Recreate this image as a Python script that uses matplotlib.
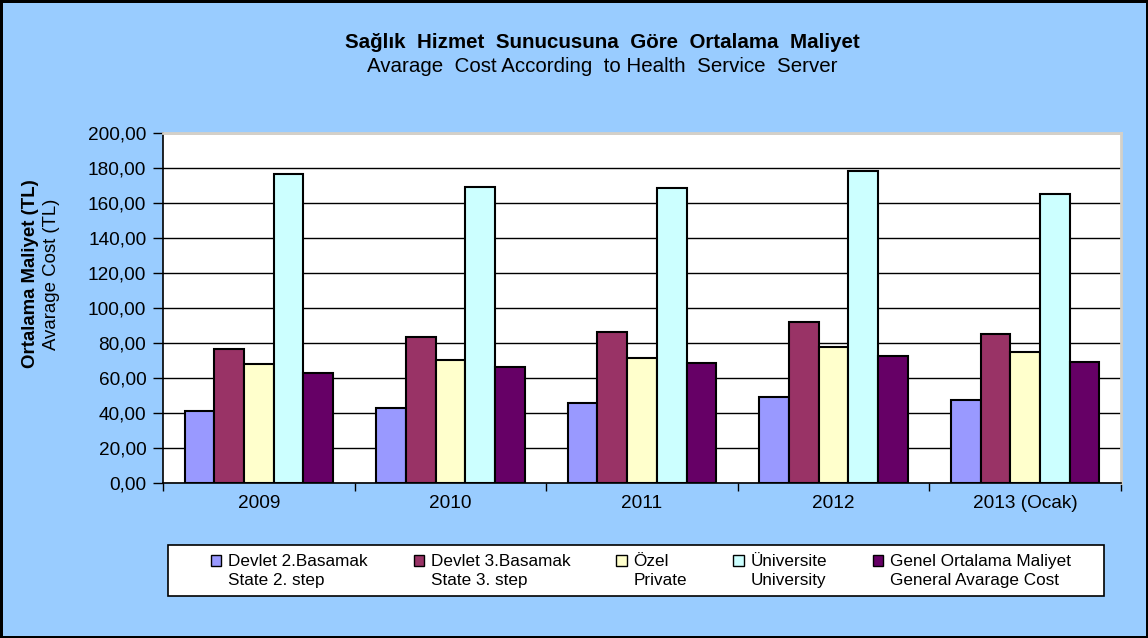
import matplotlib.pyplot as plt
import numpy as np
from matplotlib.patches import Patch, Rectangle

plt.rcParams['font.family'] = ['Liberation Sans', 'DejaVu Sans']

years = ['2009', '2010', '2011', '2012', '2013 (Ocak)']
devlet2 = [41.0, 42.5, 45.4, 49.0, 47.3]
devlet3 = [76.2, 83.3, 86.1, 91.7, 85.0]
ozel = [68.0, 70.3, 71.1, 77.4, 74.5]
universite = [176.8, 169.0, 168.4, 178.5, 165.0]
genel = [62.7, 66.1, 68.4, 72.2, 68.8]

series = [devlet2, devlet3, ozel, universite, genel]
names_tr = ['Devlet 2.Basamak', 'Devlet 3.Basamak', 'Özel', 'Üniversite', 'Genel Ortalama Maliyet']
names_en = ['State 2. step', 'State 3. step', 'Private', 'University', 'General Avarage Cost']
colors = ['#9999FF', '#993366', '#FFFFCC', '#CCFFFF', '#660066']

W, H = 1148, 638
fig = plt.figure(figsize=(W / 100, H / 100), dpi=100)
fig.patch.set_facecolor('#99CCFF')
fig.patch.set_edgecolor('black')
fig.patch.set_linewidth(2.5)

ax = fig.add_axes([163 / W, 1 - 482.5 / H, 958 / W, 349.5 / H])
ax.set_facecolor('white')

x = np.arange(len(years))
bw = 0.155
for i, (vals, c) in enumerate(zip(series, colors)):
    ax.bar(x + (i - 2) * bw, vals, bw, color=c, edgecolor='black', linewidth=1.5, zorder=3)

ax.set_xlim(-0.5, len(years) - 0.5)
ax.set_ylim(0, 200)
ax.set_yticks(np.arange(0, 201, 20))
ax.set_yticklabels([f'{v:.2f}'.replace('.', ',') for v in np.arange(0, 201, 20)], fontsize=13.7)
ax.yaxis.grid(True, color='black', linewidth=1, zorder=0)
ax.set_xticks(x)
ax.set_xticklabels(years, fontsize=13.7)
ax.set_xticks(np.arange(-0.5, len(years), 1), minor=True)
ax.tick_params(axis='x', which='major', length=0, pad=9)
ax.tick_params(axis='x', which='minor', length=6, width=1, direction='out')
ax.tick_params(axis='y', length=7, width=1, direction='out', pad=5)
for s in ['top', 'right']:
    ax.spines[s].set_color('#D4D0C8')
    ax.spines[s].set_linewidth(2)
ax.spines['left'].set_linewidth(1.2)
ax.spines['bottom'].set_linewidth(1.2)

fig.text(602 / W, 1 - 42 / H, 'Sağlık  Hizmet  Sunucusuna  Göre  Ortalama  Maliyet',
         ha='center', va='center', fontsize=14.8, fontweight='bold')
fig.text(602 / W, 1 - 67 / H, 'Avarage  Cost According  to Health  Service  Server',
         ha='center', va='center', fontsize=14.8)
fig.text(31 / W, 1 - 274 / H, 'Ortalama Maliyet (TL)', rotation=90, ha='center', va='center',
         fontsize=13.4, fontweight='bold')
fig.text(52 / W, 1 - 274 / H, 'Avarage Cost (TL)', rotation=90, ha='center', va='center',
         fontsize=13.4)

handles, labels = [], []
for tr, en, c in zip(names_tr, names_en, colors):
    handles.append(Patch(facecolor=c, edgecolor='black', linewidth=1))
    labels.append(tr)
    handles.append(Patch(facecolor='none', edgecolor='none'))
    labels.append(en)

fig.patches.append(Rectangle((168 / W, 1 - 596 / H), 936 / W, 51 / H, transform=fig.transFigure,
                             facecolor='white', edgecolor='black', linewidth=1.2, zorder=1))
leg = fig.legend(handles, labels, ncol=5, loc='center',
                 bbox_to_anchor=(641 / W, 1 - 571 / H),
                 fontsize=12.3, frameon=False,
                 handlelength=0.6, handleheight=0.6, handletextpad=0.4,
                 labelspacing=0.2, borderpad=0.2, columnspacing=2.7)

fig.savefig('out.png', dpi=100, facecolor=fig.get_facecolor(), edgecolor=fig.get_edgecolor())
